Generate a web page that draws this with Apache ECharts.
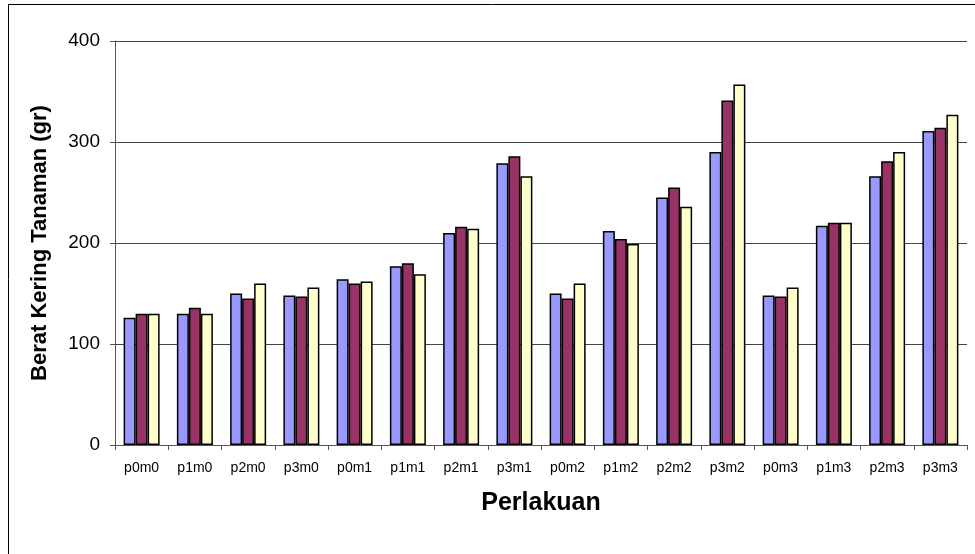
<!DOCTYPE html>
<html>
<head>
<meta charset="utf-8">
<script src="https://cdn.jsdelivr.net/npm/echarts@6/dist/echarts.min.js"></script>
<style>
  html, body { margin: 0; padding: 0; background: #fff; }
  #chart { width: 975px; height: 554px; }
</style>
</head>
<body>
<div id="chart"></div>
<script>
// perlakuan (treatment) categories
var categories = ['p0m0', 'p1m0', 'p2m0', 'p3m0', 'p0m1', 'p1m1', 'p2m1', 'p3m1',
  'p0m2', 'p1m2', 'p2m2', 'p3m2', 'p0m3', 'p1m3', 'p2m3', 'p3m3']

// three replicates / series
var seriesA = [126, 130, 150, 148, 164, 177, 210, 279, 150, 212, 245, 290, 148, 217, 266, 311]
var seriesB = [130, 136, 145, 147, 160, 180, 216, 286, 145, 204, 255, 341, 147, 220, 281, 314]
var seriesC = [130, 130, 160, 156, 162, 169, 214, 266, 160, 199, 236, 357, 156, 220, 290, 327]

var yTicks = [0, 100, 200, 300, 400]

var colors = ['#9999FF', '#993366', '#FFFFCC']

var chart = echarts.init(document.getElementById('chart'), null, { renderer: 'canvas' })

function makeSeries(data, idx) {
  return {
    type: 'bar',
    data: data,
    barWidth: 12,
    barGap: '0%',
    itemStyle: {
      color: colors[idx],
      borderColor: '#000',
      borderWidth: 1.5
    },
    animation: false
  }
}

chart.setOption({
  backgroundColor: '#fff',
  textStyle: { fontFamily: 'Liberation Sans, Arial, sans-serif' },
  graphic: [{
    type: 'rect',
    shape: { x: 8.5, y: 4.5, width: 1000, height: 600 },
    style: { fill: 'none', stroke: '#000', lineWidth: 1 },
    silent: true
  }],
  grid: {
    left: 115,
    right: 8,
    top: 41,
    bottom: 109
  },
  xAxis: {
    type: 'category',
    data: categories,
    name: 'Perlakuan',
    nameLocation: 'middle',
    nameGap: 46,
    nameTextStyle: { fontSize: 25, fontWeight: 'bold', color: '#000' },
    axisLine: { lineStyle: { color: '#555', width: 1 } },
    axisTick: { show: true, length: 5, lineStyle: { color: '#555' } },
    axisLabel: { color: '#000', fontSize: 14, margin: 16 }
  },
  yAxis: {
    type: 'value',
    min: 0,
    max: 400,
    interval: 100,
    name: 'Berat Kering Tanaman (gr)',
    nameLocation: 'middle',
    nameGap: 64,
    nameTextStyle: { fontSize: 22, fontWeight: 'bold', color: '#000' },
    axisLine: { show: true, lineStyle: { color: '#555', width: 1 } },
    axisTick: { show: true, length: 5, lineStyle: { color: '#555' } },
    axisLabel: {
      color: '#000',
      fontSize: 19,
      margin: 15,
      formatter: function (v) { return yTicks.indexOf(v) >= 0 ? String(v) : '' }
    },
    splitLine: { show: true, lineStyle: { color: '#444', width: 1 } }
  },
  series: [
    makeSeries(seriesA, 0),
    makeSeries(seriesB, 1),
    makeSeries(seriesC, 2)
  ]
})
</script>
</body>
</html>
